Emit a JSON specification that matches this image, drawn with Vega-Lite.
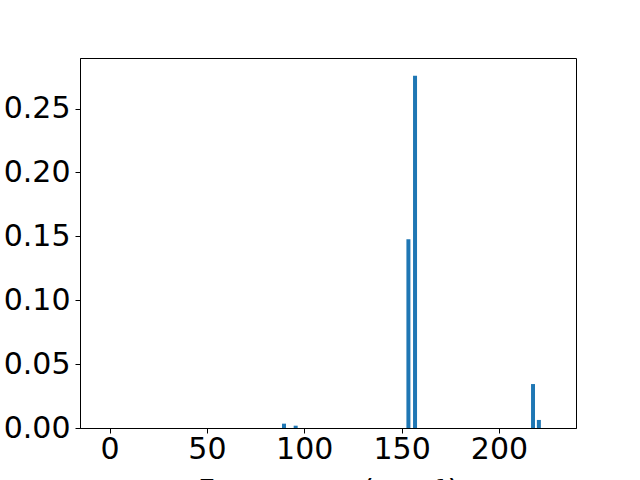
{
  "$schema": "https://vega.github.io/schema/vega-lite/v6.json",
  "autosize": "none",
  "width": 496,
  "height": 370,
  "padding": {"left": 80, "top": 58, "right": 64, "bottom": 52},
  "background": "white",
  "config": {
    "font": "DejaVu Sans",
    "view": {"stroke": "black", "strokeWidth": 1},
    "axis": {
      "grid": false,
      "domainColor": "black",
      "tickColor": "black",
      "tickSize": 5,
      "labelPadding": 5,
      "labelFontSize": 30,
      "labelColor": "black",
      "labelFont": "DejaVu Sans",
      "titleFont": "DejaVu Sans",
      "titleFontSize": 30,
      "titleFontWeight": "normal",
      "titleColor": "black"
    }
  },
  "data": {
    "values": [
      {"freq": 0, "value": 0},
      {"freq": 89.6, "value": 0.0034},
      {"freq": 95.6, "value": 0.0018},
      {"freq": 153.5, "value": 0.1477},
      {"freq": 156.9, "value": 0.2758},
      {"freq": 217.5, "value": 0.0344},
      {"freq": 220.5, "value": 0.0063},
      {"freq": 224.5, "value": 0}
    ]
  },
  "mark": {"type": "bar", "size": 4, "color": "#1f77b4"},
  "encoding": {
    "x": {
      "field": "freq",
      "type": "quantitative",
      "scale": {"domain": [-12.6, 237], "nice": false, "zero": false},
      "axis": {"values": [0, 50, 100, 150, 200], "title": "Frequency (cm⁻¹)", "titlePadding": 12, "labelPadding": 1, "labelFlush": false}
    },
    "y": {
      "field": "value",
      "type": "quantitative",
      "scale": {"domain": [0, 0.2896], "nice": false},
      "axis": {"values": [0, 0.05, 0.1, 0.15, 0.2, 0.25], "format": ".2f", "title": null, "labelFlush": false}
    }
  }
}
